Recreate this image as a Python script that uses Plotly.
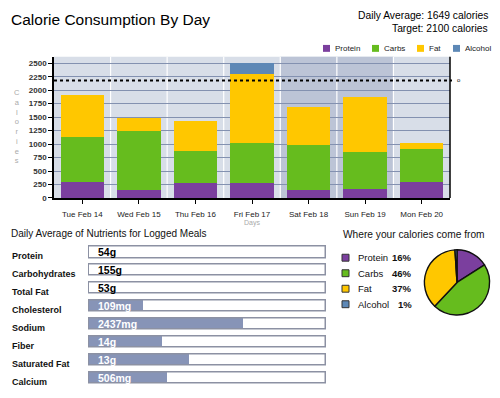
import plotly.graph_objects as go

# ---------------- data ----------------
days = ["Tue Feb 14", "Wed Feb 15", "Thu Feb 16", "Fri Feb 17", "Sat Feb 18", "Sun Feb 19", "Mon Feb 20"]
weekend_days = ["Sat Feb 18", "Sun Feb 19"]
protein = [300, 160, 285, 285, 160, 175, 300]
carbs = [835, 1090, 585, 745, 835, 680, 610]
fat = [780, 245, 555, 1270, 695, 1030, 120]
alcohol = [0, 0, 0, 200, 0, 0, 0]
target_line = 2180
y_tick_values = [0, 250, 500, 750, 1000, 1250, 1500, 1750, 2000, 2250, 2500]

nutrient_names = ["Protein", "Carbohydrates", "Total Fat", "Cholesterol", "Sodium",
                  "Fiber", "Saturated Fat", "Calcium"]
nutrient_labels = ["54g", "155g", "53g", "109mg", "2437mg", "14g", "13g", "506mg"]
nutrient_fill = [0, 0, 0, 0.23, 0.65, 0.31, 0.42, 0.33]
nutrient_scale = 1.0

pie_labels = ["Protein", "Carbs", "Fat", "Alcohol"]
pie_values = [16, 46, 37, 1]

title_text = "Calorie Consumption By Day"
avg_text = "Daily Average: 1649 calories"
target_text = "Target: 2100 calories"

# ---------------- style ----------------
W, H = 500, 398
FONT = "Liberation Sans, Arial, sans-serif"
colors = {"Protein": "#7b3f9e", "Carbs": "#66bc1e", "Fat": "#ffc700", "Alcohol": "#5d88b6"}
fill_color = "#8794b7"
box_line = "#8c91a3"


def px(x):
    return x / W


def py(y):
    return 1 - y / H


fig = go.Figure()

# stacked bars via cumulative bases
series = [("Protein", protein), ("Carbs", carbs), ("Fat", fat), ("Alcohol", alcohol)]
base = [0] * len(days)
for name, vals in series:
    fig.add_trace(go.Bar(x=days, y=vals, base=list(base), name=name,
                         marker=dict(color=colors[name], line=dict(width=0)),
                         width=0.77, xaxis="x", yaxis="y", showlegend=False,
                         hoverinfo="skip"))
    base = [b + v for b, v in zip(base, vals)]

# nutrient boxes
fig.add_trace(go.Bar(y=nutrient_names, x=[nutrient_scale] * len(nutrient_names), orientation="h",
                     marker=dict(color="white", line=dict(width=0)), width=0.62,
                     xaxis="x2", yaxis="y2", showlegend=False, hoverinfo="skip"))
fig.add_trace(go.Bar(y=nutrient_names, x=nutrient_fill, orientation="h",
                     marker=dict(color=fill_color, line=dict(width=0)), width=0.62,
                     xaxis="x2", yaxis="y2", showlegend=False, hoverinfo="skip"))
fig.add_trace(go.Bar(y=nutrient_names, x=[nutrient_scale] * len(nutrient_names), orientation="h",
                     marker=dict(color="rgba(0,0,0,0)", line=dict(width=1.5, color=box_line)), width=0.62,
                     xaxis="x2", yaxis="y2", showlegend=False, hoverinfo="skip"))

# pie
fig.add_trace(go.Pie(labels=pie_labels, values=pie_values, sort=False, direction="clockwise",
                     marker=dict(colors=[colors[l] for l in pie_labels], line=dict(color="#111", width=1.4)),
                     textinfo="none", showlegend=False, hoverinfo="skip",
                     domain=dict(x=[px(424), px(490)], y=[py(319), py(253)])))

shapes = []
annotations = []

# main plot background, weekend shading and column separators
shapes.append(dict(type="rect", xref="x domain", yref="y domain", x0=0, x1=1, y0=0, y1=1,
                   fillcolor="#d8dee8", line=dict(width=0), layer="below"))
idx = [days.index(d) for d in weekend_days]
shapes.append(dict(type="rect", xref="x", yref="y domain", x0=min(idx) - 0.5, x1=max(idx) + 0.5,
                   y0=0, y1=1, fillcolor="#bcc4d6", line=dict(width=0), layer="below"))
for i in range(1, len(days)):
    shapes.append(dict(type="line", xref="x", yref="y domain", x0=i - 0.5, x1=i - 0.5, y0=0, y1=1,
                       line=dict(color="white", width=1.2), layer="below"))
# right axis line
shapes.append(dict(type="line", xref="x domain", yref="y domain", x0=1, x1=1, y0=0, y1=1,
                   line=dict(color="black", width=1.5)))
# target dotted line
shapes.append(dict(type="line", xref="x domain", yref="y", x0=0, x1=1.005, y0=target_line, y1=target_line,
                   line=dict(color="black", width=2, dash="dot")))
annotations.append(dict(xref="x domain", yref="y", x=1.012, y=target_line, text="o", showarrow=False,
                        xanchor="left", font=dict(size=6, color="black", family=FONT)))

# titles
annotations.append(dict(xref="paper", yref="paper", x=px(9), y=py(20), text=title_text, showarrow=False,
                        xanchor="left", yanchor="middle", font=dict(size=15.5, color="black", family=FONT)))
annotations.append(dict(xref="paper", yref="paper", x=px(490), y=py(16), text=avg_text, showarrow=False,
                        xanchor="right", yanchor="middle", font=dict(size=10.3, color="black", family=FONT)))
annotations.append(dict(xref="paper", yref="paper", x=px(490), y=py(29), text=target_text, showarrow=False,
                        xanchor="right", yanchor="middle", font=dict(size=10.3, color="black", family=FONT)))

# main legend
leg_x = [323, 372, 417, 453]
for (name, _), lx in zip(series, leg_x):
    shapes.append(dict(type="rect", xref="paper", yref="paper", x0=px(lx), x1=px(lx + 7),
                       y0=py(52.5), y1=py(45.5), fillcolor=colors[name], line=dict(width=0)))
    annotations.append(dict(xref="paper", yref="paper", x=px(lx + 10), y=py(49.5), text=name,
                            showarrow=False, xanchor="left", yanchor="middle",
                            font=dict(size=8, color="#222", family=FONT)))

# axis titles
annotations.append(dict(xref="paper", yref="paper", x=px(17), y=py(128), text="<br>".join("Calories"),
                        showarrow=False, xanchor="center", yanchor="middle",
                        font=dict(size=7.5, color="#aaaaaa", family=FONT)))
annotations.append(dict(xref="paper", yref="paper", x=px(252), y=py(225.5), text="Days",
                        showarrow=False, xanchor="center", yanchor="middle",
                        font=dict(size=7, color="#aaaaaa", family=FONT)))

# nutrients section
annotations.append(dict(xref="paper", yref="paper", x=px(9), y=py(236),
                        text="Daily Average of Nutrients for Logged Meals", showarrow=False,
                        xanchor="left", yanchor="middle", font=dict(size=10, color="#111", family=FONT)))
for name, lab, f in zip(nutrient_names, nutrient_labels, nutrient_fill):
    annotations.append(dict(xref="paper", yref="y2", x=px(10), y=name, text=name, yshift=-4,
                            showarrow=False, xanchor="left", yanchor="middle",
                            font=dict(size=9, color="#111", family=FONT, weight="bold")))
    annotations.append(dict(xref="x2", yref="y2", x=0, y=name, text=lab, xshift=7,
                            showarrow=False, xanchor="left", yanchor="middle",
                            font=dict(size=10.5, color="white" if f > 0 else "black", family=FONT,
                                      weight="bold")))

# pie legend
annotations.append(dict(xref="paper", yref="paper", x=px(341), y=py(237),
                        text="Where your calories come from", showarrow=False,
                        xanchor="left", yanchor="middle", font=dict(size=10.2, color="#111", family=FONT)))
for i, (lab, val) in enumerate(zip(pie_labels, pie_values)):
    yc = 261 + i * 15.7
    shapes.append(dict(type="rect", xref="paper", yref="paper", x0=px(342), x1=px(349),
                       y0=py(yc + 3.5), y1=py(yc - 3.5), fillcolor=colors[lab],
                       line=dict(width=1, color="#333")))
    annotations.append(dict(xref="paper", yref="paper", x=px(356), y=py(yc), text=lab,
                            showarrow=False, xanchor="left", yanchor="middle",
                            font=dict(size=9.5, color="#111", family=FONT)))
    annotations.append(dict(xref="paper", yref="paper", x=px(414), y=py(yc), text=f"{val}%",
                            showarrow=False, xanchor="right", yanchor="middle",
                            font=dict(size=9.5, color="#111", family=FONT, weight="bold")))

fig.update_layout(
    width=W, height=H, margin=dict(l=0, r=0, t=0, b=0),
    paper_bgcolor="white", plot_bgcolor="white",
    barmode="overlay", bargap=0, showlegend=False,
    font=dict(family=FONT),
    xaxis=dict(domain=[px(54), px(450)], type="category", range=[-0.5, len(days) - 0.5],
               showline=True, linecolor="black", linewidth=2, ticks="outside", ticklen=4,
               tickcolor="black", tickwidth=1, tickfont=dict(size=8, color="#222", family=FONT),
               ticklabelstandoff=3,
               showgrid=False, zeroline=False, anchor="y", fixedrange=True),
    yaxis=dict(domain=[py(200.5), py(57.5)], range=[0, 2620], tickvals=y_tick_values,
               showgrid=True, gridcolor="#8391b0", gridwidth=1, zeroline=False,
               showline=True, linecolor="black", linewidth=1.5, ticks="outside", ticklen=4,
               tickcolor="black", tickfont=dict(size=8, color="#333", family=FONT, weight="bold"),
               anchor="x", fixedrange=True),
    xaxis2=dict(domain=[px(88), px(327)], range=[-0.004, 1.004], visible=False, anchor="y2",
                fixedrange=True),
    yaxis2=dict(domain=[py(391.5), py(246.5)], type="category", range=[len(nutrient_names) - 0.5, -0.5],
                visible=False, anchor="x2", fixedrange=True),
    shapes=shapes, annotations=annotations,
)

fig.write_html("out.html", config={"displayModeBar": False},
               post_script="document.body.style.margin='0';document.body.style.overflow='hidden';")
